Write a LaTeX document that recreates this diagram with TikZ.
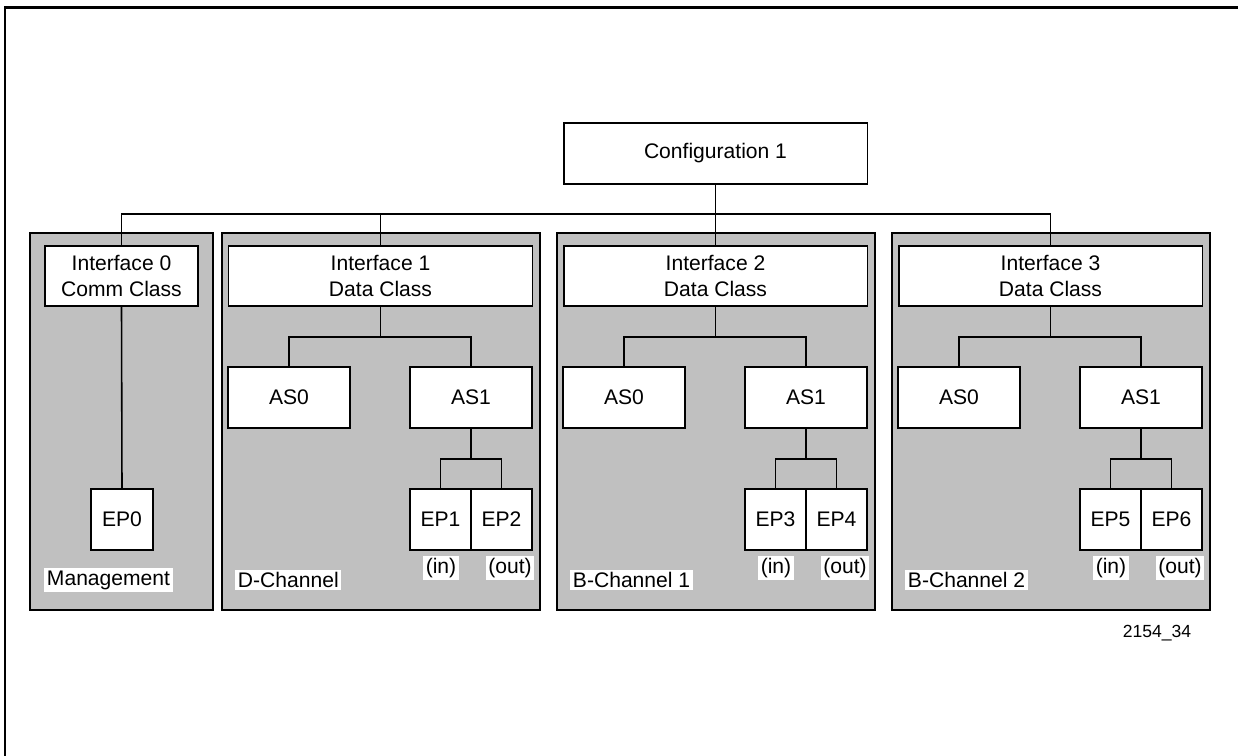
\documentclass[tikz,border=0pt]{standalone}
\usepackage{fontspec}
\setmainfont{Liberation Sans}
\usetikzlibrary{positioning}
\definecolor{panelgray}{RGB}{192,192,192}
\tikzset{
  box/.style={draw, fill=white, line width=1.1pt, align=center, inner sep=0pt,
    font=\fontsize{12}{14.5}\selectfont},
  panel/.style={draw, fill=panelgray, line width=1pt},
  link/.style={line width=0.9pt},
  tag/.style={fill=white, inner sep=1.5pt, font=\fontsize{12}{14.5}\selectfont},
}
\begin{document}
\begin{tikzpicture}[x=0.02cm, y=-0.02cm]
  \useasboundingbox (0,0) rectangle (1238,755);
  \draw[line width=1.7pt] (5,7) rectangle (1260,780);
  \draw[panel] (30,233) rectangle (213,610);
  \draw[panel] (222,233) rectangle (540,610);
  \draw[panel] (557,233) rectangle (875,610);
  \draw[panel] (892,233) rectangle (1210,610);

  \node[box, minimum width=6.08cm, minimum height=1.22cm] (cfg) at (715.5,153.5) {Configuration 1};
  \coordinate (bus) at (715.5,214);

  \node[box, minimum width=3.06cm, minimum height=1.2cm] (int0) at (121.5,276) {Interface 0\\Comm Class};
  \node[box, minimum width=1.23cm, minimum height=1.23cm] (ep0) at (122,519.5) {EP0};
  \node[tag, anchor=west] (mgmt) at (44,580) {Management};

  \node[box, minimum width=6.08cm, minimum height=1.2cm] (int1) at (380.5,276) {Interface 1\\Data Class};
  \node[box, minimum width=2.44cm, minimum height=1.22cm] (as0a) at (289,397.5) {AS0};
  \node[box, minimum width=2.44cm, minimum height=1.22cm] (as1a) at (471,397.5) {AS1};
  \node[box, minimum width=1.22cm, minimum height=1.22cm] (ep1) at (440.5,519.5) {EP1};
  \node[box, minimum width=1.22cm, minimum height=1.22cm] (ep2) at (501.5,519.5) {EP2};
  \node[tag] (in1) at (441,568) {(in)};
  \node[tag] (out1) at (510,568) {(out)};
  \node[tag, anchor=west] (dch) at (235,580) {D-Channel};

  \node[box, minimum width=6.08cm, minimum height=1.2cm] (int2) at (715.5,276) {Interface 2\\Data Class};
  \node[box, minimum width=2.44cm, minimum height=1.22cm] (as0b) at (624,397.5) {AS0};
  \node[box, minimum width=2.44cm, minimum height=1.22cm] (as1b) at (806,397.5) {AS1};
  \node[box, minimum width=1.22cm, minimum height=1.22cm] (ep3) at (775.5,519.5) {EP3};
  \node[box, minimum width=1.22cm, minimum height=1.22cm] (ep4) at (836.5,519.5) {EP4};
  \node[tag] (in2) at (776,568) {(in)};
  \node[tag] (out2) at (845,568) {(out)};
  \node[tag, anchor=west] (bch1) at (570,580) {B-Channel 1};

  \node[box, minimum width=6.08cm, minimum height=1.2cm] (int3) at (1050.5,276) {Interface 3\\Data Class};
  \node[box, minimum width=2.44cm, minimum height=1.22cm] (as0c) at (959,397.5) {AS0};
  \node[box, minimum width=2.44cm, minimum height=1.22cm] (as1c) at (1141,397.5) {AS1};
  \node[box, minimum width=1.22cm, minimum height=1.22cm] (ep5) at (1110.5,519.5) {EP5};
  \node[box, minimum width=1.22cm, minimum height=1.22cm] (ep6) at (1171.5,519.5) {EP6};
  \node[tag] (in3) at (1111,568) {(in)};
  \node[tag] (out3) at (1180,568) {(out)};
  \node[tag, anchor=west] (bch2) at (905,580) {B-Channel 2};

  \node[font=\fontsize{10}{12}\selectfont] (fig) at (1157,633) {2154\_34};

  \draw[link] (cfg.south) -- (int2.north);
  \draw[link] (int0.north) |- (bus) -| (int3.north);
  \draw[link] (int1.north) -- (int1.north |- bus);
  \draw[link] (int0.south) -- (ep0.north);

  \draw[link] (int1.south) -- ++(0,30) -| (as0a.north) (int1.south) ++(0,30) -| (as1a.north);
  \draw[link] (as1a.south) -- ++(0,30) -| (ep1.north) (as1a.south) ++(0,30) -| (ep2.north);
  \draw[link] (int2.south) -- ++(0,30) -| (as0b.north) (int2.south) ++(0,30) -| (as1b.north);
  \draw[link] (as1b.south) -- ++(0,30) -| (ep3.north) (as1b.south) ++(0,30) -| (ep4.north);
  \draw[link] (int3.south) -- ++(0,30) -| (as0c.north) (int3.south) ++(0,30) -| (as1c.north);
  \draw[link] (as1c.south) -- ++(0,30) -| (ep5.north) (as1c.south) ++(0,30) -| (ep6.north);
\end{tikzpicture}
\end{document}
